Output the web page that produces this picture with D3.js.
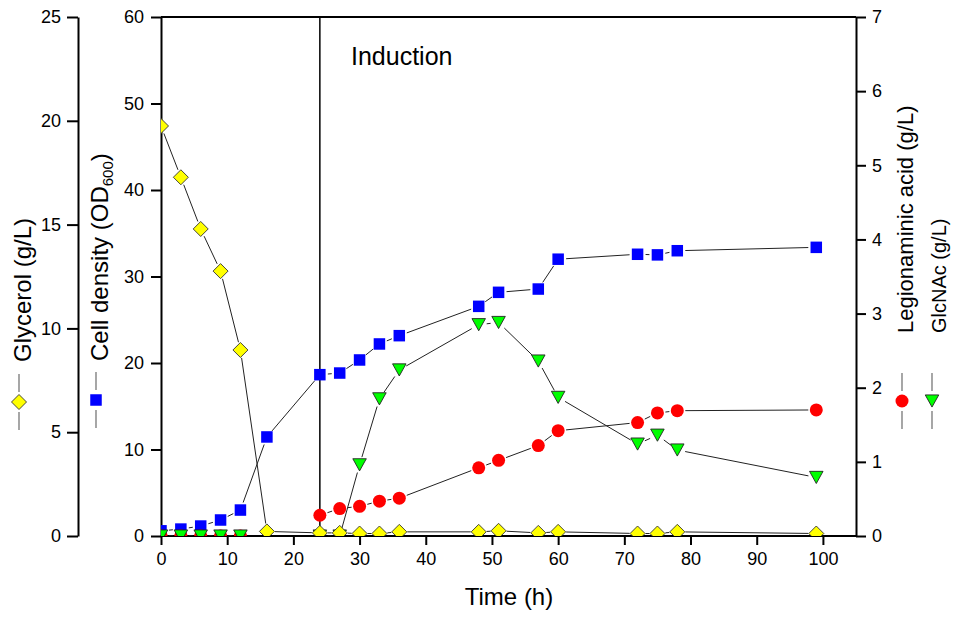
<!DOCTYPE html>
<html><head><meta charset="utf-8">
<script src="https://cdn.jsdelivr.net/npm/d3@7"></script>
<style>
html,body{margin:0;padding:0;background:#fff;}
svg{display:block;font-family:"Liberation Sans",Arial,sans-serif;}
</style></head>
<body><svg id="c" width="953" height="619"></svg>
<script>
// ---- data ----
const time = [0,3,6,9,12,16,24,27,30,33,36,48,51,57,60,72,75,78,99];
const glycerol = [19.75,17.28,14.79,12.76,8.96,0.22,0.15,0.15,0.12,0.12,0.2,0.2,0.25,0.15,0.2,0.12,0.12,0.2,0.12];
const cellDensity = [0.6,0.8,1.15,1.85,3.0,11.45,18.65,18.84,20.35,22.2,23.16,26.55,28.17,28.55,32.0,32.57,32.5,32.98,33.37];
const legionaminic = [0,0,0,0,0,null,0.28,0.37,0.40,0.47,0.51,0.92,1.02,1.22,1.42,1.53,1.66,1.69,1.70];
const glcnac = [0,0,0,0,0,null,0,0,0.96,1.85,2.24,2.85,2.88,2.36,1.87,1.24,1.36,1.16,0.79];
const xTicks = [0,10,20,30,40,50,60,70,80,90,100];
const glyTicks = [0,5,10,15,20,25];
const odTicks = [0,10,20,30,40,50,60];
const rightTicks = [0,1,2,3,4,5,6,7];
const inductionTime = 24;

const svg = d3.select("#c");
const L = 161, R = 856, T = 17, B = 536;
const x = d3.scaleLinear().domain([0,105]).range([L,R]);
const yGly = d3.scaleLinear().domain([0,25]).range([B,T]);
const yOD = d3.scaleLinear().domain([0,60]).range([B,T]);
const yR = d3.scaleLinear().domain([0,7]).range([B,T]);
const fmt = d3.format("d");

svg.append("defs").append("clipPath").attr("id","clip")
  .append("rect").attr("x",L).attr("y",T).attr("width",R-L).attr("height",B-T);

const font = '"Liberation Sans",Arial,sans-serif';
function styleAxis(g){
  g.selectAll(".domain").attr("stroke","#000").attr("stroke-width",2);
  g.selectAll(".tick line").attr("stroke","#000").attr("stroke-width",2);
  g.selectAll(".tick text").attr("font-size",18).attr("font-family",font).attr("fill","#000");
}
// glycerol axis
const gA = svg.append("g").attr("transform","translate(78,0)")
  .call(d3.axisLeft(yGly).tickValues(glyTicks).tickFormat(fmt).tickSize(11).tickSizeOuter(0).tickPadding(6));
styleAxis(gA);
// OD axis
const oA = svg.append("g").attr("transform",`translate(${L},0)`)
  .call(d3.axisLeft(yOD).tickValues(odTicks).tickFormat(fmt).tickSize(10).tickSizeOuter(0).tickPadding(7));
styleAxis(oA);
// right axis
const rA = svg.append("g").attr("transform",`translate(${R},0)`)
  .call(d3.axisRight(yR).tickValues(rightTicks).tickFormat(fmt).tickSize(10).tickSizeOuter(0).tickPadding(6));
styleAxis(rA);
// x axis
const xA = svg.append("g").attr("transform",`translate(0,${B})`)
  .call(d3.axisBottom(x).tickValues(xTicks).tickFormat(fmt).tickSize(9).tickSizeOuter(0).tickPadding(7));
styleAxis(xA);
xA.select(".domain").attr("d",`M${L},0H${R}`);
// top frame
svg.append("line").attr("x1",L).attr("x2",R).attr("y1",T).attr("y2",T).attr("stroke","#000").attr("stroke-width",2);

// induction line
svg.append("line").attr("x1",x(inductionTime)).attr("x2",x(inductionTime)).attr("y1",T).attr("y2",B)
  .attr("stroke","#000").attr("stroke-width",1.5);
svg.append("text").attr("x",351).attr("y",65).attr("font-size",25).attr("font-family",font).text("Induction");

// series
const plot = svg.append("g").attr("clip-path","url(#clip)");
const gap = 8;
function drawSeries(vals, yS, shape, fill, stroke, size){
  const pts = time.map((t,i)=>vals[i]==null?null:[x(t), yS(vals[i])]);
  const g = plot.append("g");
  for(let i=0;i<pts.length-1;i++){
    const a=pts[i], b=pts[i+1];
    if(!a||!b) continue;
    const dx=b[0]-a[0], dy=b[1]-a[1], len=Math.hypot(dx,dy);
    if(len<=2*gap+1) continue;
    const ux=dx/len, uy=dy/len;
    g.append("line").attr("x1",a[0]+ux*gap).attr("y1",a[1]+uy*gap)
      .attr("x2",b[0]-ux*gap).attr("y2",b[1]-uy*gap)
      .attr("stroke","#222").attr("stroke-width",1);
  }
  pts.forEach(p=>{ if(p) drawMarker(g,p[0],p[1],shape,fill,stroke,size); });
}
function drawMarker(g,cx,cy,shape,fill,stroke,s){
  let el;
  if(shape==="square") el=g.append("rect").attr("x",cx-s/2).attr("y",cy-s/2).attr("width",s).attr("height",s);
  else if(shape==="circle") el=g.append("circle").attr("cx",cx).attr("cy",cy).attr("r",s/2);
  else if(shape==="diamond") el=g.append("path").attr("d",`M${cx},${cy-s/2}L${cx+s/2},${cy}L${cx},${cy+s/2}L${cx-s/2},${cy}Z`);
  else if(shape==="tri") el=g.append("path").attr("d",`M${cx-s/2},${cy-s*0.45}L${cx+s/2},${cy-s*0.45}L${cx},${cy+s*0.45}Z`);
  el.attr("fill",fill);
  if(stroke) el.attr("stroke",stroke).attr("stroke-width",0.9); else el.attr("stroke","none");
}
drawSeries(cellDensity, yOD, "square", "#0000ff", null, 11.5);
drawSeries(legionaminic, yR, "circle", "#ff0000", null, 13);
drawSeries(glcnac, yR, "tri", "#00ff00", "#222", 13.5);
drawSeries(glycerol, yGly, "diamond", "#ffff00", "#333", 15);

// axis titles with legend symbols
function vLegend(cx, cy, shape, fill, stroke, size){
  const g = svg.append("g");
  g.append("line").attr("x1",cx).attr("x2",cx).attr("y1",cy-28).attr("y2",cy-10).attr("stroke","#777").attr("stroke-width",1.3);
  g.append("line").attr("x1",cx).attr("x2",cx).attr("y1",cy+10).attr("y2",cy+28).attr("stroke","#777").attr("stroke-width",1.3);
  drawMarker(g,cx,cy,shape,fill,stroke,size);
}
function vText(bx, by, size){
  return svg.append("text").attr("transform",`translate(${bx},${by}) rotate(-90)`)
    .attr("font-size",size).attr("font-family",font).attr("fill","#000");
}
vText(31, 362, 24).text("Glycerol (g/L)");
vLegend(19, 402, "diamond", "#ffff00", "#333", 15);
const od = vText(108, 361, 24);
od.append("tspan").text("Cell density (OD");
od.append("tspan").attr("font-size",15).attr("dy",5).text("600");
od.append("tspan").attr("dy",-5).text(")");
vLegend(96, 400, "square", "#0000ff", null, 11.5);
vText(913, 333, 22).text("Legionaminic acid (g/L)");
vLegend(902, 401, "circle", "#ff0000", null, 13);
vText(946, 333, 20).text("GlcNAc (g/L)");
vLegend(932, 401, "tri", "#00ff00", "#222", 13.5);

svg.append("text").attr("x",509).attr("y",605).attr("text-anchor","middle")
  .attr("font-size",24).attr("font-family",font).text("Time (h)");
</script></body></html>
